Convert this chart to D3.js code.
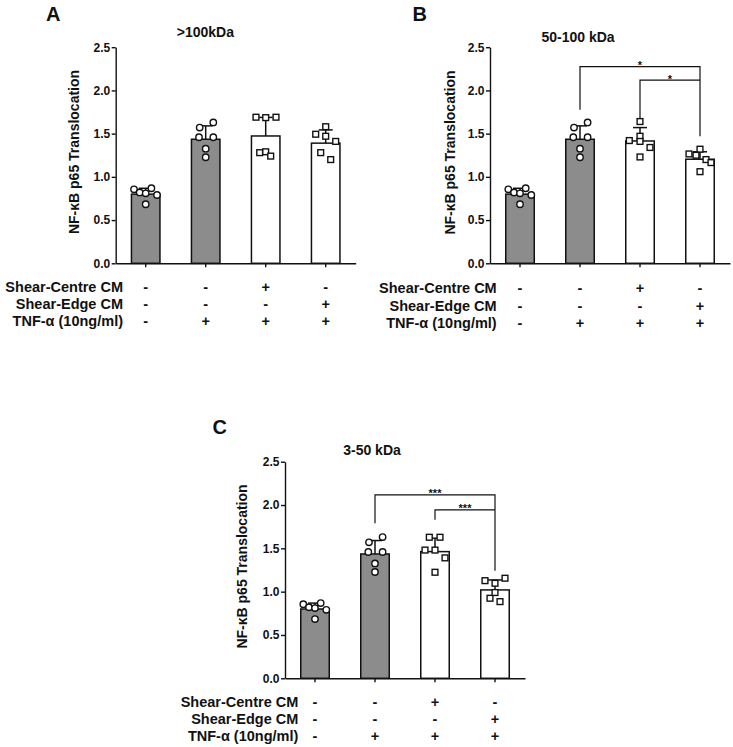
<!DOCTYPE html>
<html>
<head>
<meta charset="utf-8">
<script src="https://cdn.jsdelivr.net/npm/d3@7"></script>
<style>
  html, body { margin: 0; padding: 0; background: #fff; }
  svg { display: block; font-family: "Liberation Sans", Arial, sans-serif; }
</style>
</head>
<body>
<svg id="chart" width="733" height="747"></svg>
<script>
// ---------------- DATA ----------------
const groups = ["Control", "TNF", "Centre", "Edge"];
const panelLetters = ["A", "B", "C"];
const panelTitles = [">100kDa", "50-100 kDa", "3-50 kDa"];
const yTicks = [0.0, 0.5, 1.0, 1.5, 2.0, 2.5];
const yLabel = "NF-\u03BAB p65 Translocation";

const meansA = [0.80, 1.435, 1.473, 1.39];
const sdA    = [0.068, 0.155, 0.215, 0.153];
const pointsA = [
  [0.856, 0.82, 0.81, 0.868, 0.79, 0.683],
  [1.57, 1.63, 1.458, 1.458, 1.326, 1.227],
  [1.69, 1.685, 1.69, 1.28, 1.29, 1.24],
  [1.493, 1.58, 1.47, 1.41, 1.28, 1.20]
];

const meansB = [0.80, 1.435, 1.415, 1.204];
const sdB    = [0.068, 0.155, 0.155, 0.086];
const pointsB = [
  [0.856, 0.82, 0.81, 0.868, 0.79, 0.683],
  [1.57, 1.63, 1.458, 1.458, 1.326, 1.227],
  [1.64, 1.47, 1.42, 1.41, 1.34, 1.23],
  [1.265, 1.32, 1.25, 1.20, 1.165, 1.06]
];

const meansC = [0.80, 1.435, 1.462, 1.02];
const sdC    = [0.068, 0.155, 0.155, 0.115];
const pointsC = [
  [0.856, 0.82, 0.81, 0.868, 0.79, 0.683],
  [1.57, 1.63, 1.458, 1.458, 1.326, 1.227],
  [1.628, 1.628, 1.48, 1.48, 1.39, 1.224],
  [1.127, 1.155, 1.097, 0.924, 0.885, 0.99]
];

// comparison brackets: [from group, to group, bracket level, left leg end, right leg end, label]
const compsA = [];
const compsB = [
  [1, 3, 2.275, 1.775, 1.47, "*"],
  [2, 3, 2.12, 1.68, null, "*"]
];
const compsC = [
  [1, 3, 2.117, 1.79, 1.24, "***"],
  [2, 3, 1.944, 1.83, null, "***"]
];

const rowNames = ["Shear-Centre CM", "Shear-Edge CM", "TNF-\u03B1 (10ng/ml)"];
const centreCM = ["-", "-", "+", "-"];
const edgeCM   = ["-", "-", "-", "+"];
const tnf      = ["-", "+", "+", "+"];

// ---------------- LAYOUT (positions/styles) ----------------
const jitterA = [
  [-11.7, -6, 0, 5.7, 11.3, 0],
  [-6, 7.6, -6.7, 7.6, 0, 0],
  [-9.7, 0, 10.3, -6, 0, 5],
  [-10, 0, 0, 10, -5, 5]
];
const jitterB = [
  [-11.7, -6, 0, 5.7, 11.3, 0],
  [-6, 7.6, -6.7, 7.6, 0, 0],
  [0, 0, -10.7, 0, 10, 0],
  [-11, 0, -4, 6, 11, 0]
];
const jitterC = [
  [-11.7, -6, 0, 5.7, 11.3, 0],
  [-6, 7.6, -6.7, 7.6, 0, 0],
  [-5.7, 5, -10, 0, 10, 0],
  [-10, 10, 0, -5, 5, 0]
];

const panels = [
  { letter: panelLetters[0], title: panelTitles[0], means: meansA, sds: sdA, pts: pointsA, jit: jitterA, comps: compsA,
    firstTick: 145.7, yTop: 47.2, yBottom: 263.3,
    letterX: 46, letterY: 20.5, titleX: 205.4, titleY: 36.7, ylabX: 74, ylabY: 152,
    rowX: 123, rowY: [292, 309, 326] },
  { letter: panelLetters[1], title: panelTitles[1], means: meansB, sds: sdB, pts: pointsB, jit: jitterB, comps: compsB,
    firstTick: 520, yTop: 47.2, yBottom: 263.3,
    letterX: 412.5, letterY: 20.5, titleX: 578, titleY: 41.7, ylabX: 449.7, ylabY: 152.5,
    rowX: 496.7, rowY: [293, 310.5, 327.5] },
  { letter: panelLetters[2], title: panelTitles[2], means: meansC, sds: sdC, pts: pointsC, jit: jitterC, comps: compsC,
    firstTick: 315, yTop: 461.7, yBottom: 678.3,
    letterX: 212.5, letterY: 433.5, titleX: 372, titleY: 455, ylabX: 242.5, ylabY: 566.5,
    rowX: 298.3, rowY: [707, 724, 741] }
];

const GREY = "#8c8c8c";
const INK = "#111";

const svg = d3.select("#chart");

panels.forEach(p => {
  const g = svg.append("g");
  const x = d3.scaleBand().domain(groups)
    .range([p.firstTick - 30, p.firstTick + 210])
    .paddingInner(0.525).paddingOuter(0.2625);
  const y = d3.scaleLinear().domain([0, 2.5]).range([p.yBottom, p.yTop]);
  const cx = gname => x(gname) + x.bandwidth() / 2;

  // bars
  g.selectAll("rect.bar").data(p.means).join("rect")
    .attr("class", "bar")
    .attr("x", (d, i) => x(groups[i]))
    .attr("width", x.bandwidth())
    .attr("y", d => y(d))
    .attr("height", d => y(0) - y(d))
    .attr("fill", (d, i) => i < 2 ? GREY : "#fff")
    .attr("stroke", INK).attr("stroke-width", 1.5);

  // error bars (upper only)
  p.means.forEach((m, i) => {
    const xc = cx(groups[i]);
    g.append("line").attr("x1", xc).attr("x2", xc)
      .attr("y1", y(m)).attr("y2", y(m + p.sds[i]))
      .attr("stroke", INK).attr("stroke-width", 1.5);
    g.append("line").attr("x1", xc - 7).attr("x2", xc + 7)
      .attr("y1", y(m + p.sds[i])).attr("y2", y(m + p.sds[i]))
      .attr("stroke", INK).attr("stroke-width", 1.5);
  });

  // points
  p.pts.forEach((arr, i) => {
    const xc = cx(groups[i]);
    arr.forEach((v, j) => {
      const px = xc + p.jit[i][j];
      if (i < 2) {
        g.append("circle").attr("cx", px).attr("cy", y(v)).attr("r", 3.2)
          .attr("fill", "#fff").attr("stroke", INK).attr("stroke-width", 1.4);
      } else {
        g.append("rect").attr("x", px - 2.9).attr("y", y(v) - 2.9)
          .attr("width", 5.8).attr("height", 5.8)
          .attr("fill", "#fff").attr("stroke", INK).attr("stroke-width", 1.4);
      }
    });
  });

  // y axis
  const yAxis = d3.axisLeft(y).tickValues(yTicks).tickFormat(d3.format(".1f"))
    .tickSize(4).tickSizeOuter(0).tickPadding(1.5);
  const ya = g.append("g").attr("transform", `translate(${p.firstTick - 30},0)`).call(yAxis);
  ya.select(".domain").attr("stroke", INK).attr("stroke-width", 1.4);
  ya.selectAll(".tick line").attr("stroke", INK).attr("stroke-width", 1.4);
  ya.selectAll(".tick text").attr("fill", INK).attr("font-size", 12).attr("font-weight", "bold")
    .attr("font-family", "Liberation Sans, Arial, sans-serif");

  // x axis
  const xAxis = d3.axisBottom(x).tickFormat("").tickSize(4).tickSizeOuter(0);
  const xa = g.append("g").attr("transform", `translate(0,${p.yBottom})`).call(xAxis);
  xa.select(".domain").attr("stroke", INK).attr("stroke-width", 1.4);
  xa.selectAll(".tick line").attr("stroke", INK).attr("stroke-width", 1.4);

  // comparison brackets
  p.comps.forEach(c => {
    const x1 = cx(groups[c[0]]), x2 = cx(groups[c[1]]);
    const yb = y(c[2]);
    let d = `M${x1},${y(c[3])}V${yb}H${x2}`;
    if (c[4] !== null) d += `V${y(c[4])}`;
    g.append("path").attr("d", d).attr("fill", "none")
      .attr("stroke", INK).attr("stroke-width", 1.2);
    g.append("text").attr("x", (x1 + x2) / 2).attr("y", yb + 2.5)
      .attr("text-anchor", "middle").attr("font-size", 11).attr("font-weight", "bold")
      .attr("fill", INK).text(c[5]);
  });

  // panel letter
  g.append("text").attr("x", p.letterX).attr("y", p.letterY)
    .attr("font-size", 20).attr("font-weight", "bold").attr("fill", INK).text(p.letter);
  // title
  g.append("text").attr("x", p.titleX).attr("y", p.titleY).attr("text-anchor", "middle")
    .attr("font-size", 14).attr("font-weight", "bold").attr("fill", INK).text(p.title);
  // y label
  g.append("text").attr("transform", `translate(${p.ylabX},${p.ylabY}) rotate(-90)`)
    .attr("text-anchor", "middle").attr("dy", "0.35em")
    .attr("font-size", 14).attr("font-weight", "bold").attr("fill", INK).text(yLabel);

  // condition rows
  const rows = [centreCM, edgeCM, tnf];
  rows.forEach((row, r) => {
    g.append("text").attr("x", p.rowX).attr("y", p.rowY[r]).attr("text-anchor", "end")
      .attr("font-size", 14.5).attr("font-weight", "bold").attr("fill", INK).text(rowNames[r]);
    g.selectAll(null).data(row).join("text")
      .attr("x", (d, i) => cx(groups[i])).attr("y", p.rowY[r])
      .attr("text-anchor", "middle").attr("font-size", 14.5).attr("font-weight", "bold")
      .attr("fill", INK).text(d => d);
  });
});
</script>
</body>
</html>
